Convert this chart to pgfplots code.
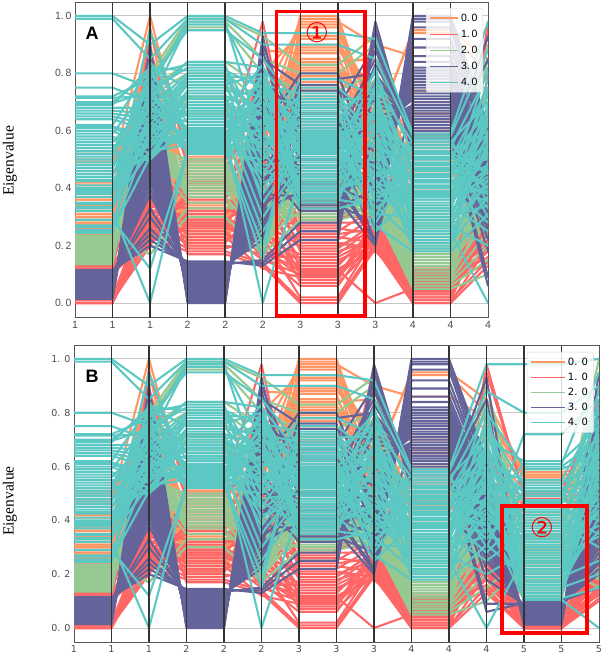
\documentclass[border=0pt]{standalone}
\usepackage{fontspec}
\usepackage{pgfplots}
\usepackage{pgfplotstable}
\pgfplotsset{compat=1.18}
\setmainfont{Liberation Sans}
\newfontfamily\tnr{Liberation Serif}
\newfontfamily\dv{DejaVu Sans}
\definecolor{co}{RGB}{255,150,100}
\definecolor{cr}{RGB}{255,102,102}
\definecolor{cg}{RGB}{150,200,145}
\definecolor{cp}{RGB}{100,100,155}
\definecolor{ct}{RGB}{92,200,196}
\definecolor{fr}{RGB}{85,85,85}
% one column per polyline: orange 1-26, red 27-60, green 61-90, purple 91-126, teal 127-180
\pgfplotstableread[row sep=\\,header=false]{
0
.52 .49 .47 .42 .41 .37 .37 .36 .36 .34 .33 .31 .31 .30 .30 .29 .28 .28 .27 .27 .26 .25 .50 .45 .39 .24
.00 .00 .00 .00 .01 .01 .01 .01 .01 .02 .02 .02 .10 .10 .10 .10 .10 .11 .11 .11 .11 .12 .12 .12 .12 .12 .13 .13 .13 .13 .13 .13 .13 .13
.135 .14 .143 .147 .15 .153 .157 .16 .163 .167 .17 .173 .177 .18 .183 .187 .19 .193 .197 .20 .203 .207 .21 .213 .217 .22 .223 .227 .23 .235
.015 .018 .02 .023 .026 .029 .032 .035 .038 .041 .044 .047 .05 .053 .056 .059 .062 .065 .068 .071 .074 .077 .08 .083 .086 .089 .092 .095 .098 .101 .10 .103 .105 .108 .11 .115
1.0 .99 .80 .75 .72 .715 .70 .695 .69 .68 .67 .66 .65 .64 .62 .615 .61 .60 .59 .58 .57 .56 .55 .54 .53 .51 .50 .49 .48 .47 .46 .45 .44 .43 .40 .395 .39 .385 .38 .35 .345 .335 .33 .32 .29 .27 .265 .255 .25 .245 .52 .41 .425 .37 \\
1
.52 .49 .47 .42 .41 .37 .37 .36 .36 .34 .33 .31 .31 .30 .30 .29 .28 .28 .27 .27 .26 .25 .50 .45 .39 .24
.00 .00 .00 .00 .01 .01 .01 .01 .01 .02 .02 .02 .10 .10 .10 .10 .10 .11 .11 .11 .11 .12 .12 .12 .12 .12 .13 .13 .13 .13 .13 .13 .13 .13
.135 .14 .143 .147 .15 .153 .157 .16 .163 .167 .17 .173 .177 .18 .183 .187 .19 .193 .197 .20 .203 .207 .21 .213 .217 .22 .223 .227 .23 .235
.015 .018 .02 .023 .026 .029 .032 .035 .038 .041 .044 .047 .05 .053 .056 .059 .062 .065 .068 .071 .074 .077 .08 .083 .086 .089 .092 .095 .098 .101 .10 .103 .105 .108 .11 .115
1.0 .99 .80 .75 .72 .715 .70 .695 .69 .68 .67 .66 .65 .64 .62 .615 .61 .60 .59 .58 .57 .56 .55 .54 .53 .51 .50 .49 .48 .47 .46 .45 .44 .43 .40 .395 .39 .385 .38 .35 .345 .335 .33 .32 .29 .27 .265 .255 .25 .245 .52 .41 .425 .37 \\
2
.70 .72 1.0 .66 .75 .80 .62 .88 .68 .60 .78 .65 .72 .58 .70 .96 .74 .64 .83 .67 .61 .76 .69 .55 .90 .71
.95 .25 .88 .30 .22 .36 .28 .33 .20 .37 .24 .31 .27 .35 .23 .29 .26 .34 .21 .32 .28 .36 .22 .30 .25 .27 .33 .24 .35 .29 .31 .26 .23 .60
.80 .78 .76 .74 .72 .70 .68 .66 .64 .62 .60 .58 .56 .55 .54 .53 .52 .51 .50 .49 .48 .47 .65 .63 .61 .59 .57 .52 .17 .17
.90 .88 .86 .83 .80 .76 .72 .70 .68 .65 .62 .60 .58 .56 .55 .54 .53 .52 .51 .50 .49 .48 .47 .46 .45 .44 .43 .42 .40 .38 .33 .30 .26 .24 .22 .20
.90 .85 .75 .70 .78 .72 .80 .74 .82 .68 .66 .64 .62 .60 .82 .58 .56 .54 .76 .52 .50 .70 .55 .65 .75 .60 .80 .50 .68 .72 .55 .62 .78 .52 .65 .58 .82 .70 .57 .63 .53 .74 .60 .00 .12 .66 .76 .51 .59 .84 .67 .73 .61 .95 \\
3
.52 .51 .49 .47 .45 .44 .42 .41 .39 .37 .36 .34 .33 .31 .30 .29 .28 .27 .26 .25 .24 .23 .23 .22 .21 .20
.52 .50 .48 .46 .45 .43 .42 .40 .39 .38 .37 .36 .35 .33 .32 .31 .30 .30 .29 .29 .28 .28 .27 .27 .26 .25 .24 .23 .22 .21 .20 .19 .18 .17
.99 .98 .96 .84 .80 .76 .72 .715 .71 .70 .66 .60 .56 .50 .49 .48 .47 .46 .45 .44 .43 .42 .41 .40 .39 .38 .37 .35 .33 .30
.00 .004 .008 .012 .016 .02 .024 .028 .032 .036 .04 .044 .048 .052 .056 .06 .064 .068 .072 .076 .08 .084 .088 .092 .096 .10 .104 .108 .112 .116 .12 .125 .13 .135 .14 .145
1.0 .99 .98 .97 .95 .84 .83 .82 .81 .80 .79 .78 .77 .76 .75 .74 .73 .72 .71 .70 .69 .68 .67 .66 .65 .64 .63 .62 .61 .605 .60 .595 .59 .585 .58 .575 .57 .565 .56 .555 .55 .545 .54 .535 .53 .525 .52 .69 .67 .65 .63 .61 .595 .57 \\
4
.52 .51 .49 .47 .45 .44 .42 .41 .39 .37 .36 .34 .33 .31 .30 .29 .28 .27 .26 .25 .24 .23 .23 .22 .21 .20
.52 .50 .48 .46 .45 .43 .42 .40 .39 .38 .37 .36 .35 .33 .32 .31 .30 .30 .29 .29 .28 .28 .27 .27 .26 .25 .24 .23 .22 .21 .20 .19 .18 .17
.99 .98 .96 .84 .80 .76 .72 .715 .71 .70 .66 .60 .56 .50 .49 .48 .47 .46 .45 .44 .43 .42 .41 .40 .39 .38 .37 .35 .33 .30
.00 .004 .008 .012 .016 .02 .024 .028 .032 .036 .04 .044 .048 .052 .056 .06 .064 .068 .072 .076 .08 .084 .088 .092 .096 .10 .104 .108 .112 .116 .12 .125 .13 .135 .14 .145
1.0 .99 .98 .97 .95 .84 .83 .82 .81 .80 .79 .78 .77 .76 .75 .74 .73 .72 .71 .70 .69 .68 .67 .66 .65 .64 .63 .62 .61 .605 .60 .595 .59 .585 .58 .575 .57 .565 .56 .555 .55 .545 .54 .535 .53 .525 .52 .69 .67 .65 .63 .61 .595 .57 \\
5
.45 .60 .17 .72 .35 .80 .50 .25 .65 .15 .55 .88 .40 .30 .70 .20 .62 .48 .58 .75 .33 .18 .68 .42 .52 .85
.98 .60 .45 .80 .50 .35 .30 .55 .40 .70 .25 .62 .38 .28 .33 .48 .22 .16 .36 .26 .20 .42 .18 .30 .24 .15 .19 .12 .27 .34 .17 .23 .14 .13
.93 .85 .80 .75 .70 .65 .25 .30 .35 .22 .28 .20 .33 .26 .18 .30 .24 .27 .21 .32 .23 .29 .19 .36 .25 .40 .22 .28 .34 .17
.93 .90 .88 .85 .82 .78 .75 .72 .70 .68 .65 .63 .60 .58 .56 .54 .52 .50 .48 .46 .44 .42 .40 .38 .36 .34 .33 .32 .30 .28 .26 .24 .22 .15 .14 .13
.94 .90 .55 .70 .85 .82 .45 .60 .75 .50 .78 .65 .40 .80 .58 .72 .35 .68 .52 .76 .62 .48 .83 .57 .70 .30 .66 .54 .78 .42 .60 .25 .74 .00 .56 .64 .80 .47 .68 .53 .72 .20 .61 .15 .76 .50 .58 .66 .44 .38 .63 .70 .55 .74 \\
6
1.0 .99 .98 .97 .96 .94 .93 .92 .90 .89 .88 .87 .85 .84 .83 .82 .81 .79 .78 .77 .75 .74 .72 .70 .66 .62
.35 .34 .33 .30 .29 .28 .27 .26 .25 .24 .23 .22 .21 .20 .19 .18 .17 .16 .15 .14 .13 .12 .115 .11 .105 .10 .095 .09 .08 .07 .06 .02 .01 .00
.83 .80 .74 .71 .62 .58 .55 .52 .50 .48 .46 .45 .44 .43 .42 .41 .40 .39 .38 .37 .36 .36 .35 .35 .34 .33 .32 .31 .30 .29
.36 .55 .42 .76 .34 .64 .50 .40 .71 .33 .61 .46 .80 .38 .59 .35 .69 .48 .32 .66 .41 .56 .74 .37 .63 .44 .58 .39 .78 .52 .60 .54 .68 .28 .25 .22
.94 .90 .66 .67 .68 .65 .64 .63 .62 .60 .59 .58 .57 .56 .55 .54 .53 .52 .78 .51 .72 .50 .40 .49 .375 .48 .33 .47 .39 .46 .41 .45 .37 .44 .43 .42 .40 .38 .36 .35 .69 .70 .61 .75 .73 .71 .525 .535 .545 .555 .565 .575 .585 .595 \\
7
1.0 .99 .98 .97 .96 .94 .93 .92 .90 .89 .88 .87 .85 .84 .83 .82 .81 .79 .78 .77 .75 .74 .72 .70 .66 .62
.35 .34 .33 .30 .29 .28 .27 .26 .25 .24 .23 .22 .21 .20 .19 .18 .17 .16 .15 .14 .13 .12 .115 .11 .105 .10 .095 .09 .08 .07 .06 .02 .01 .00
.83 .80 .74 .71 .62 .58 .55 .52 .50 .48 .46 .45 .44 .43 .42 .41 .40 .39 .38 .37 .36 .36 .35 .35 .34 .33 .32 .31 .30 .29
.36 .55 .42 .76 .34 .64 .50 .40 .71 .33 .61 .46 .80 .38 .59 .35 .69 .48 .32 .66 .41 .56 .74 .37 .63 .44 .58 .39 .78 .52 .60 .54 .68 .28 .25 .22
.94 .90 .66 .67 .68 .65 .64 .63 .62 .60 .59 .58 .57 .56 .55 .54 .53 .52 .78 .51 .72 .50 .40 .49 .375 .48 .33 .47 .39 .46 .41 .45 .37 .44 .43 .42 .40 .38 .36 .35 .69 .70 .61 .75 .73 .71 .525 .535 .545 .555 .565 .575 .585 .595 \\
8
.60 .62 .90 .55 .65 .70 .58 .50 .68 .72 .75 .48 .63 .85 .52 .66 .60 .45 .80 .70 .56 .64 .73 .59 .47 .78
.97 .65 .40 .30 .35 .28 .50 .24 .33 .26 .21 .30 .19 .25 .28 .22 .27 .23 .20 .24 .26 .18 .00 .22 .19 .25 .21 .29 .27 .20 .24 .23 .20 .19
.93 .90 .80 .70 .65 .55 .50 .48 .46 .44 .43 .42 .41 .40 .39 .38 .37 .36 .35 .34 .33 .32 .31 .30 .42 .40 .38 .36 .34 .32
.20 .21 .22 .25 .28 .30 .33 .35 .37 .40 .40 .42 .44 .45 .48 .50 .52 .55 .58 .60 .21 .62 .65 .68 .70 .72 .75 .78 .80 .83 .85 .88 .90 .92 .95 .98
.92 .85 .40 .75 .30 .60 .50 .80 .35 .70 .45 .65 .28 .55 .78 .38 .62 .33 .72 .48 .58 .25 .68 .42 .53 .82 .36 .63 .46 .74 .31 .57 .66 .40 .51 .76 .43 .60 .34 .69 .49 .56 .27 .64 .41 .71 .52 .37 .59 .47 .67 .44 .54 .61 \\
9
.95 .94 .86 .78 .74 .70 .66 .64 .60 .58 .56 .55 .54 .53 .52 .50 .48 .47 .47 .46 .46 .46 .45 .45 .44 .40
.12 .12 .115 .11 .11 .105 .10 .10 .095 .09 .09 .085 .08 .08 .075 .07 .07 .065 .06 .06 .055 .05 .05 .045 .04 .04 .03 .03 .02 .02 .01 .01 .00 .00
.34 .33 .32 .31 .30 .29 .28 .27 .26 .25 .24 .23 .22 .21 .20 .19 .18 .17 .16 .15 .14 .13 .12 .11 .10 .09 .08 .07 .06 .05
1.0 .99 .98 .96 .92 .89 .86 .84 .82 .81 .80 .79 .78 .77 .76 .75 .74 .73 .72 .71 .70 .69 .68 .67 .66 .65 .64 .63 .62 .61 .60 .59 .58 .57 .55 .52
.59 .58 .57 .56 .55 .54 .53 .52 .51 .50 .49 .48 .47 .46 .45 .44 .43 .42 .41 .40 .39 .38 .375 .37 .36 .35 .34 .33 .32 .31 .30 .29 .28 .27 .26 .25 .24 .23 .22 .21 .20 .19 .18 .31 .33 .36 .385 .405 .425 .445 .465 .485 .505 .525 \\
10
.95 .94 .86 .78 .74 .70 .66 .64 .60 .58 .56 .55 .54 .53 .52 .50 .48 .47 .47 .46 .46 .46 .45 .45 .44 .40
.12 .12 .115 .11 .11 .105 .10 .10 .095 .09 .09 .085 .08 .08 .075 .07 .07 .065 .06 .06 .055 .05 .05 .045 .04 .04 .03 .03 .02 .02 .01 .01 .00 .00
.34 .33 .32 .31 .30 .29 .28 .27 .26 .25 .24 .23 .22 .21 .20 .19 .18 .17 .16 .15 .14 .13 .12 .11 .10 .09 .08 .07 .06 .05
1.0 .99 .98 .96 .92 .89 .86 .84 .82 .81 .80 .79 .78 .77 .76 .75 .74 .73 .72 .71 .70 .69 .68 .67 .66 .65 .64 .63 .62 .61 .60 .59 .58 .57 .55 .52
.59 .58 .57 .56 .55 .54 .53 .52 .51 .50 .49 .48 .47 .46 .45 .44 .43 .42 .41 .40 .39 .38 .375 .37 .36 .35 .34 .33 .32 .31 .30 .29 .28 .27 .26 .25 .24 .23 .22 .21 .20 .19 .18 .31 .33 .36 .385 .405 .425 .445 .465 .485 .505 .525 \\
11
.85 .80 .78 .40 .75 .35 .70 .65 .28 .60 .55 .30 .50 .45 .62 .48 .42 .38 .52 .58 .33 .36 .44 .68 .46 .25
.95 .98 .55 .20 .45 .18 .35 .25 .40 .16 .30 .22 .60 .38 .14 .28 .33 .44 .24 .18 .42 .36 .27 .50 .32 .21 .47 .26 .80 .34 .29 .15 .20 .13
.90 .85 .75 .35 .40 .45 .30 .50 .28 .42 .38 .33 .48 .36 .26 .44 .41 .34 .52 .39 .31 .37 .46 .29 .43 .32 .25 .20 .15 .10
.62 .60 .58 .55 .55 .54 .52 .50 .50 .48 .47 .46 .45 .44 .43 .42 .41 .40 .39 .38 .36 .35 .34 .33 .31 .30 .28 .26 .25 .22 .18 .09 .06 .85 .93 .65
.98 .88 .35 .70 .45 .80 .30 .60 .40 .75 .50 .33 .65 .42 .55 .72 .38 .48 .62 .28 .52 .68 .36 .58 .44 .78 .25 .63 .46 .54 .34 .66 .41 .20 .56 .00 .74 .43 .60 .37 .49 .70 .31 .53 .64 .47 .39 .57 .82 .51 .59 .40 .67 .45 \\
12
.58 .57 .57 .56 .56 .55 .54 .52 .50 .48 .46 .45 .43 .42 .40 .38 .36 .34 .32 .30 .28 .26 .24 .22 .20 .18
.50 .49 .49 .48 .05 .05 .05 .04 .03 .03 .02 .02 .02 .01 .01 .01 .01 .01 .01 .01 .01 .01 .00 .00 .00 .00 .00 .00 .00 .00 .00 .00 .00 .00
.36 .35 .34 .33 .32 .31 .30 .29 .28 .27 .26 .25 .24 .23 .22 .21 .20 .19 .18 .17 .16 .15 .14 .13 .12 .11 .30 .28 .26 .24
.013 .015 .018 .02 .023 .025 .028 .03 .033 .035 .038 .04 .043 .045 .048 .05 .053 .055 .058 .06 .063 .065 .068 .07 .073 .075 .078 .08 .083 .085 .088 .09 .093 .095 .098 .10
.98 .80 .72 .62 .61 .60 .59 .55 .54 .53 .52 .51 .50 .49 .475 .465 .455 .44 .43 .42 .41 .40 .39 .38 .37 .36 .35 .34 .33 .32 .31 .30 .29 .28 .27 .26 .25 .24 .23 .22 .21 .20 .19 .18 .17 .16 .15 .14 .13 .12 .11 .105 .47 .35 \\
13
.58 .57 .57 .56 .56 .55 .54 .52 .50 .48 .46 .45 .43 .42 .40 .38 .36 .34 .32 .30 .28 .26 .24 .22 .20 .18
.50 .49 .49 .48 .05 .05 .05 .04 .03 .03 .02 .02 .02 .01 .01 .01 .01 .01 .01 .01 .01 .01 .00 .00 .00 .00 .00 .00 .00 .00 .00 .00 .00 .00
.36 .35 .34 .33 .32 .31 .30 .29 .28 .27 .26 .25 .24 .23 .22 .21 .20 .19 .18 .17 .16 .15 .14 .13 .12 .11 .30 .28 .26 .24
.013 .015 .018 .02 .023 .025 .028 .03 .033 .035 .038 .04 .043 .045 .048 .05 .053 .055 .058 .06 .063 .065 .068 .07 .073 .075 .078 .08 .083 .085 .088 .09 .093 .095 .098 .10
.98 .80 .72 .62 .61 .60 .59 .55 .54 .53 .52 .51 .50 .49 .475 .465 .455 .44 .43 .42 .41 .40 .39 .38 .37 .36 .35 .34 .33 .32 .31 .30 .29 .28 .27 .26 .25 .24 .23 .22 .21 .20 .19 .18 .17 .16 .15 .14 .13 .12 .11 .105 .47 .35 \\
14
.60 .55 .58 .52 .50 .48 .45 .42 .40 .38 .35 .33 .30 .28 .25 .22 .20 .17 .15 .30 .34 .36 .40 .44 .50 .55
.85 .60 .50 .45 .40 .12 .17 .22 .30 .35 .28 .25 .20 .15 .18 .33 .38 .42 .26 .30 .24 .19 .14 .13 .16 .21 .27 .32 .36 .23 .29 .34 .11 .10
1.0 .90 .80 .70 .60 .50 .40 .35 .30 .25 .22 .20 .18 .15 .35 .45 .55 .65 .28 .32 .38 .42 .48 .52 .58 .62 .26 .24 .21 .19
.95 .85 .80 .75 .72 .70 .70 .65 .63 .60 .58 .55 .53 .52 .50 .48 .46 .45 .44 .42 .40 .40 .38 .36 .35 .34 .32 .30 .30 .28 .26 .25 .24 .22 .20 .15
1.0 .90 .85 .75 .95 .70 .65 .80 .60 .72 .55 .50 .68 .78 .45 .62 .88 .40 .58 .66 .35 .52 .74 .30 .48 .82 .42 .56 .64 .38 .70 .46 .54 .60 .34 .76 .44 .50 .68 .58 .36 .62 .25 .53 .72 .41 .20 .47 .66 .57 .15 .00 .84 .43 \\
}\pclines
\pgfplotsset{
  pc/.style={
    scale only axis, anchor=south west, clip=true,
    axis line style={fr, line width=1pt},
    ymajorgrids, grid style={gray!45, line width=1pt},
    xtick pos=bottom, ytick pos=left,
    ytick style={draw=none},
    xtick style={fr, line width=.7pt},
    major tick length=3pt,
    ytick={0,0.2,0.4,0.6,0.8,1.0},
    tick label style={text=black!70},
    every axis plot/.append style={line join=round},
    legend cell align=left,
    legend style={fill=white, fill opacity=.82, text opacity=1, draw=gray!30, rounded corners=1.5pt, anchor=north east, inner sep=3.5pt},
  },
  lw/.style={line width=2.1pt, forget plot},
}
\newcommand{\series}{%
  \pgfplotsinvokeforeach{1,...,26}{\addplot[co,lw] table[x index=0,y index=##1]{\pclines};}
  \pgfplotsinvokeforeach{27,...,60}{\addplot[cr,lw] table[x index=0,y index=##1]{\pclines};}
  \pgfplotsinvokeforeach{61,...,90}{\addplot[cg,lw] table[x index=0,y index=##1]{\pclines};}
  \pgfplotsinvokeforeach{91,...,126}{\addplot[cp,lw] table[x index=0,y index=##1]{\pclines};}
  \pgfplotsinvokeforeach{127,...,180}{\addplot[ct,lw] table[x index=0,y index=##1]{\pclines};}
}
\begin{document}
\begin{tikzpicture}
\path[use as bounding box] (0pt,0pt) rectangle (605pt,660pt);
\begin{axis}[pc, at={(75pt,342pt)}, width=413pt, height=315pt,
  xmin=0, xmax=11, ymin=-0.052, ymax=1.045,
  xtick={0,...,11}, xticklabels={1,1,1,2,2,2,3,3,3,4,4,4},
  yticklabels={0.\,0,0.\,2,0.\,4,0.\,6,0.\,8,1.\,0},
  tick label style={font=\fontsize{10.5}{12}\selectfont},
  legend image code/.code={\draw[#1](0pt,0pt)--(28pt,0pt);},
  legend style={at={(0.988,0.984)}, row sep=3.2pt, font=\fontsize{10.5}{16}\selectfont},
]
\series
\pgfplotsinvokeforeach{1,...,10}{\addplot[black!80,line width=1.5pt,forget plot] coordinates {(#1,-0.052) (#1,1.045)};}
\addlegendimage{co,line width=1.3pt}\addlegendentry{0.\,0}
\addlegendimage{cr,line width=1.3pt}\addlegendentry{1.\,0}
\addlegendimage{cg,line width=1.3pt}\addlegendentry{2.\,0}
\addlegendimage{cp,line width=1.3pt}\addlegendentry{3.\,0}
\addlegendimage{ct,line width=1.3pt}\addlegendentry{4.\,0}
\end{axis}
\begin{axis}[pc, at={(74pt,18pt)}, width=525pt, height=296pt,
  xmin=0, xmax=14, ymin=-0.052, ymax=1.048,
  xtick={0,...,14}, xticklabels={1,1,1,2,2,2,3,3,3,4,4,4,5,5,5},
  yticklabels={0. 0,0. 2,0. 4,0. 6,0. 8,1. 0},
  tick label style={font=\dv\fontsize{9.5}{12}\selectfont},
  legend image code/.code={\draw[#1](0pt,0pt)--(34pt,0pt);},
  legend style={at={(0.990,0.980)}, row sep=2.2pt, font=\dv\fontsize{10}{15}\selectfont},
]
\series
\pgfplotsinvokeforeach{1,...,13}{\addplot[black!80,line width=1.5pt,forget plot] coordinates {(#1,-0.052) (#1,1.048)};}
\addlegendimage{co,line width=1.3pt}\addlegendentry{0. 0}
\addlegendimage{cr,line width=1.3pt}\addlegendentry{1. 0}
\addlegendimage{cg,line width=1.3pt}\addlegendentry{2. 0}
\addlegendimage{cp,line width=1.3pt}\addlegendentry{3. 0}
\addlegendimage{ct,line width=1.3pt}\addlegendentry{4. 0}
\end{axis}
\draw[red, line width=3.5pt] (276.5pt,648.5pt) rectangle (365pt,344pt);
\draw[red, line width=3.5pt] (502pt,154pt) rectangle (587pt,27pt);
\node[text=red, font=\dv\fontsize{27}{27}\selectfont] at (317pt,627pt) {①};
\node[text=red, font=\dv\fontsize{27}{27}\selectfont] at (542pt,132pt) {②};
\node[font=\bfseries\fontsize{18}{18}\selectfont] at (92pt,627pt) {A};
\node[font=\bfseries\fontsize{18}{18}\selectfont] at (92pt,284pt) {B};
\node[rotate=90, font=\tnr\fontsize{15.5}{16}\selectfont] at (10pt,499pt) {Eigenvalue};
\node[rotate=90, font=\tnr\fontsize{15.5}{16}\selectfont] at (10pt,159pt) {Eigenvalue};
\end{tikzpicture}
\end{document}
